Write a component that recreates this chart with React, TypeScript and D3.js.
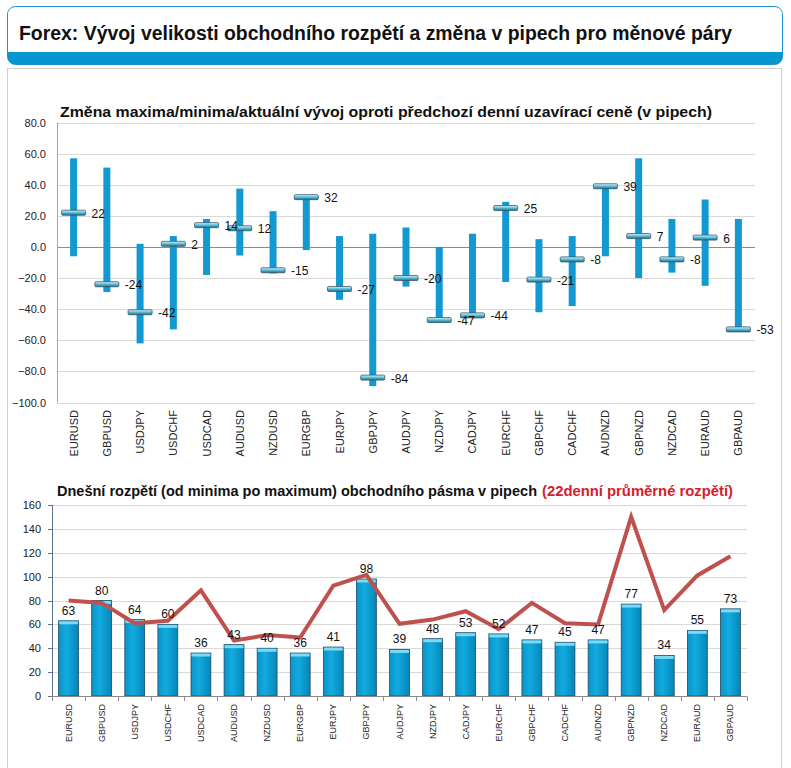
import { useEffect, useRef } from "react";
import * as d3 from "d3";

const pairs = [
  "EURUSD", "GBPUSD", "USDJPY", "USDCHF", "USDCAD", "AUDUSD", "NZDUSD",
  "EURGBP", "EURJPY", "GBPJPY", "AUDJPY", "NZDJPY", "CADJPY", "EURCHF",
  "GBPCHF", "CADCHF", "AUDNZD", "GBPNZD", "NZDCAD", "EURAUD", "GBPAUD",
];

// top chart: change vs previous close (pips)
const highs = [57, 51, 2, 7, 18, 37.5, 23, 33, 7, 8.5, 12.5, 0, 8.5, 29, 5, 7, 39.5, 57, 18, 30.5, 18];
const lows = [-6, -29, -62, -53, -18, -5.5, -17, -2, -34, -89.5, -25.5, -48, -44.5, -22.5, -42, -38, -6, -20, -16.5, -25, -54.5];
const current = [22, -24, -42, 2, 14, 12, -15, 32, -27, -84, -20, -47, -44, 25, -21, -8, 39, 7, -8, 6, -53];
const topTicks = [80, 60, 40, 20, 0, -20, -40, -60, -80, -100];

// bottom chart: today's range vs 22-day average range
const ranges = [63, 80, 64, 60, 36, 43, 40, 36, 41, 98, 39, 48, 53, 52, 47, 45, 47, 77, 34, 55, 73];
const avg22 = [80, 78, 61, 63, 88.5, 46.5, 51, 49, 92.5, 101.5, 60.5, 64, 71, 56, 78, 61, 60, 150, 72, 101, 117];
const bottomTicks = [0, 20, 40, 60, 80, 100, 120, 140, 160];

const FONT = "'Liberation Sans', Arial, sans-serif";

export default function App() {
  const svgRef = useRef<SVGSVGElement>(null);

  useEffect(() => {
    if (!svgRef.current) return;
    const svg = d3.select(svgRef.current);
    svg.selectAll("*").remove();

    const defs = svg.append("defs");
    const mk = defs.append("linearGradient").attr("id", "marker").attr("x1", 0).attr("y1", 0).attr("x2", 0).attr("y2", 1);
    mk.append("stop").attr("offset", "0%").attr("stop-color", "#e6f8fc");
    mk.append("stop").attr("offset", "45%").attr("stop-color", "#5cc4e4");
    mk.append("stop").attr("offset", "100%").attr("stop-color", "#1a6e8e");
    const bg = defs.append("linearGradient").attr("id", "bar").attr("x1", 0).attr("y1", 0).attr("x2", 1).attr("y2", 0);
    bg.append("stop").attr("offset", "0%").attr("stop-color", "#0a94c8");
    bg.append("stop").attr("offset", "40%").attr("stop-color", "#12abe0");
    bg.append("stop").attr("offset", "100%").attr("stop-color", "#0686b8");

    // header
    svg.append("rect").attr("x", 7.5).attr("y", 6.5).attr("width", 775).attr("height", 58)
      .attr("rx", 8).attr("fill", "#0597d0").attr("stroke", "#1f8fcf");
    svg.append("path")
      .attr("d", "M8,52 L8,15 Q8,7 16,7 L774,7 Q782,7 782,15 L782,52 Z")
      .attr("fill", "#fff");
    svg.append("text").attr("x", 19).attr("y", 39.5)
      .attr("font-family", FONT).attr("font-size", 20).attr("font-weight", "bold").attr("fill", "#111")
      .attr("textLength", 713).attr("lengthAdjust", "spacingAndGlyphs")
      .text("Forex: Vývoj velikosti obchodního rozpětí a změna v pipech pro měnové páry");

    // panel
    svg.append("rect").attr("x", 7.5).attr("y", 68.5).attr("width", 774).attr("height", 710)
      .attr("fill", "#fff").attr("stroke", "#cfcfcf");

    // ---------- top chart ----------
    const x1 = d3.scaleBand().domain(pairs).range([57, 755]);
    const y1 = d3.scaleLinear().domain([-100, 80]).range([402.5, 122.5]);
    const cx1 = (p: string) => x1(p)! + x1.bandwidth() / 2;
    const g1 = svg.append("g");

    g1.append("text").attr("x", 60).attr("y", 117)
      .attr("font-family", FONT).attr("font-size", 15).attr("font-weight", "bold").attr("fill", "#111")
      .attr("textLength", 652).attr("lengthAdjust", "spacingAndGlyphs")
      .text("Změna maxima/minima/aktuální vývoj oproti předchozí denní uzavírací ceně (v pipech)");

    g1.selectAll(".grid").data(topTicks).join("line")
      .attr("x1", 57).attr("x2", 755)
      .attr("y1", (d) => Math.round(y1(d)) + 0.5).attr("y2", (d) => Math.round(y1(d)) + 0.5)
      .attr("stroke", (d) => (d === 0 ? "#8c8c8c" : "#d9d9d9"));
    g1.append("line").attr("x1", 57.5).attr("x2", 57.5).attr("y1", y1(80)).attr("y2", y1(-100))
      .attr("stroke", "#a6a6a6");
    g1.selectAll(".tick").data(topTicks).join("text")
      .attr("x", 46).attr("y", (d) => y1(d) + 4)
      .attr("text-anchor", "end").attr("font-family", FONT).attr("font-size", 11).attr("fill", "#222")
      .text((d) => d3.format(".1f")(d));

    g1.selectAll(".range").data(pairs).join("rect")
      .attr("x", (p) => cx1(p) - 3.5).attr("width", 7)
      .attr("y", (_, i) => y1(highs[i])).attr("height", (_, i) => y1(lows[i]) - y1(highs[i]))
      .attr("fill", "#1399d1");

    g1.selectAll(".cur").data(pairs).join("rect")
      .attr("x", (p) => cx1(p) - 12).attr("width", 24)
      .attr("y", (_, i) => y1(current[i]) - 2.5).attr("height", 5)
      .attr("rx", 1)
      .attr("fill", "url(#marker)").attr("stroke", "#3d5560").attr("stroke-width", 0.8);

    g1.selectAll(".lbl").data(pairs).join("text")
      .attr("x", (p) => cx1(p) + 18).attr("y", (_, i) => y1(current[i]) + 5)
      .attr("font-family", FONT).attr("font-size", 12).attr("fill", "#111")
      .text((_, i) => current[i]);

    g1.selectAll(".xl").data(pairs).join("text")
      .attr("transform", (p) => `translate(${cx1(p) + 4},410) rotate(-90)`)
      .attr("text-anchor", "end").attr("font-family", FONT).attr("font-size", 11).attr("fill", "#222")
      .text((p) => p);

    // ---------- bottom chart ----------
    const x2 = d3.scaleBand().domain(pairs).range([52, 747]).paddingInner(0.4).paddingOuter(0.2);
    const y2 = d3.scaleLinear().domain([0, 160]).range([696, 505]);
    const cx2 = (p: string) => x2(p)! + x2.bandwidth() / 2;
    const g2 = svg.append("g");

    const t = g2.append("text").attr("y", 496).attr("font-family", FONT).attr("font-size", 14).attr("font-weight", "bold");
    t.append("tspan").attr("x", 57).attr("fill", "#111")
      .attr("textLength", 480).attr("lengthAdjust", "spacingAndGlyphs")
      .text("Dnešní rozpětí (od minima po maximum) obchodního pásma v pipech");
    t.append("tspan").attr("x", 542).attr("fill", "#d4202c")
      .attr("textLength", 191).attr("lengthAdjust", "spacingAndGlyphs")
      .text("(22denní průměrné rozpětí)");

    g2.selectAll(".grid").data(bottomTicks.filter((d) => d > 0)).join("line")
      .attr("x1", 52).attr("x2", 747)
      .attr("y1", (d) => Math.round(y2(d)) + 0.5).attr("y2", (d) => Math.round(y2(d)) + 0.5)
      .attr("stroke", "#d9d9d9");

    g2.selectAll(".bar").data(pairs).join("rect")
      .attr("x", (p) => x2(p)!).attr("width", x2.bandwidth())
      .attr("y", (_, i) => y2(ranges[i])).attr("height", (_, i) => y2(0) - y2(ranges[i]))
      .attr("fill", "url(#bar)").attr("stroke", "#1c4a66").attr("stroke-width", 0.8);
    g2.selectAll(".cap").data(pairs).join("rect")
      .attr("x", (p) => x2(p)! + 0.5).attr("width", x2.bandwidth() - 1)
      .attr("y", (_, i) => y2(ranges[i]) + 0.5).attr("height", 3)
      .attr("fill", "#7cdaf4");

    const line = d3.line<number>()
      .x((_, i) => cx2(pairs[i]))
      .y((d) => y2(d));
    g2.append("path").datum(avg22).attr("d", line)
      .attr("fill", "none").attr("stroke", "#c0504d").attr("stroke-width", 4)
      .attr("stroke-linejoin", "miter");

    g2.selectAll(".lbl").data(pairs).join("text")
      .attr("x", (p) => cx2(p)).attr("y", (_, i) => y2(ranges[i]) - 6)
      .attr("text-anchor", "middle").attr("font-family", FONT).attr("font-size", 12).attr("fill", "#111")
      .text((_, i) => ranges[i]);

    // axes
    g2.append("line").attr("x1", 52.5).attr("x2", 52.5).attr("y1", y2(160)).attr("y2", y2(0))
      .attr("stroke", "#5a7191");
    g2.selectAll(".yt").data(bottomTicks).join("line")
      .attr("x1", 48).attr("x2", 52.5)
      .attr("y1", (d) => Math.round(y2(d)) + 0.5).attr("y2", (d) => Math.round(y2(d)) + 0.5)
      .attr("stroke", "#5a7191");
    g2.selectAll(".ytl").data(bottomTicks).join("text")
      .attr("x", 41).attr("y", (d) => y2(d) + 4)
      .attr("text-anchor", "end").attr("font-family", FONT).attr("font-size", 11).attr("fill", "#222")
      .text((d) => d);
    g2.append("line").attr("x1", 52).attr("x2", 747).attr("y1", 696.5).attr("y2", 696.5)
      .attr("stroke", "#8a8a8a");
    g2.selectAll(".xt").data(d3.range(pairs.length + 1)).join("line")
      .attr("x1", (i) => Math.round(52 + i * x2.step()) + 0.5).attr("x2", (i) => Math.round(52 + i * x2.step()) + 0.5)
      .attr("y1", 696.5).attr("y2", 701)
      .attr("stroke", "#8a8a8a");
    g2.selectAll(".xl").data(pairs).join("text")
      .attr("transform", (p) => `translate(${cx2(p) + 3},704) rotate(-90)`)
      .attr("text-anchor", "end").attr("font-family", FONT).attr("font-size", 9).attr("fill", "#222")
      .text((p) => p);
  }, []);

  return (
    <svg
      ref={svgRef}
      width={791}
      height={768}
      style={{ position: "absolute", left: 0, top: 0, background: "#fff" }}
    />
  );
}
